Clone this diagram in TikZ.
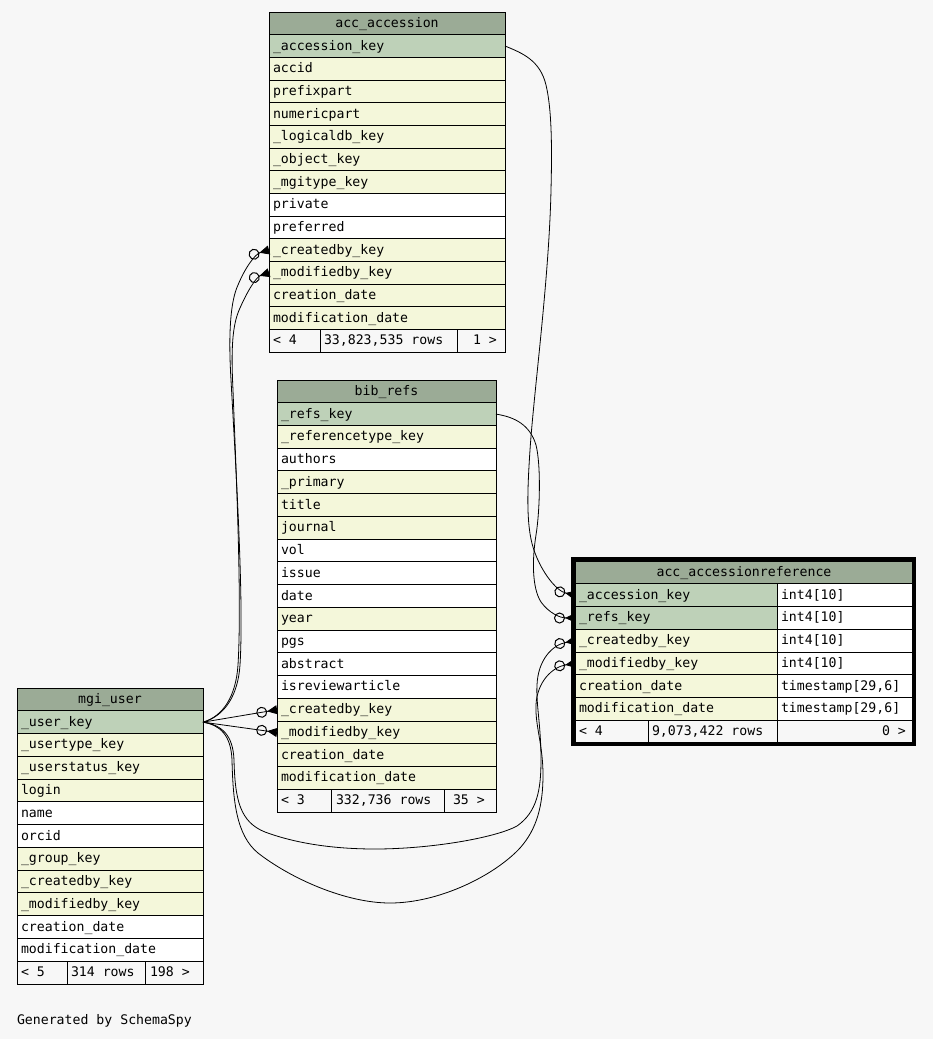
\documentclass[tikz,border=0pt]{standalone}
\usepackage{fontspec}
\usetikzlibrary{arrows.meta}
\newfontfamily\erfont{DejaVu Sans Mono}
\definecolor{bgc}{HTML}{F7F7F7}
\definecolor{hdc}{HTML}{9BAB96}
\definecolor{pkc}{HTML}{BED1B8}
\definecolor{fkc}{HTML}{F4F7DA}
\tikzset{
  erbox/.style={draw=black, line width=1pt, anchor=north west, inner sep=0pt, outer sep=0pt},
  ertext/.style={anchor=base west, inner sep=0pt, outer sep=0pt, font=\erfont\fontsize{13.2}{15}\selectfont},
  erhead/.style={anchor=base, inner sep=0pt, outer sep=0pt, font=\erfont\fontsize{13.2}{15}\selectfont},
  rel/.style={line width=0.8pt, -{Circle[open,length=11pt,width=11pt,line width=1pt]Triangle[reversed,length=10pt,width=9pt]}}
}
\begin{document}
\begin{tikzpicture}[x=1pt,y=-1pt]
\fill[bgc] (0,0) rectangle (933,1039);
\useasboundingbox (0,0) rectangle (933,1039);

% ---------- acc_accession ----------
\node[erbox, fill=hdc, minimum width=236pt, minimum height=22.67pt] (acc0) at (269,12) {};
\node[erhead] (acct0) at ([yshift=-4pt]acc0.center) {acc\_accession};
\foreach \txt/\col [count=\i] in {\_accession\_key/pkc, accid/fkc, prefixpart/fkc, numericpart/fkc, \_logicaldb\_key/fkc, \_object\_key/fkc, \_mgitype\_key/fkc, private/white, preferred/white, \_createdby\_key/fkc, \_modifiedby\_key/fkc, creation\_date/fkc, modification\_date/fkc}{
  \node[erbox, fill=\col, minimum width=236pt, minimum height=22.67pt] (acc\i) at (269,{12+\i*22.67}) {};
  \node[ertext] (acct\i) at ([xshift=4pt,yshift=-4pt]acc\i.west) {\txt};
}
\node[erbox, fill=bgc, minimum width=51pt, minimum height=22.67pt] (accf1) at (269,329.38) {};
\node[erbox, fill=bgc, minimum width=137pt, minimum height=22.67pt] (accf2) at (320,329.38) {};
\node[erbox, fill=bgc, minimum width=48pt, minimum height=22.67pt] (accf3) at (457,329.38) {};
\node[ertext] (accft1) at (273,344.7) {< 4};
\node[ertext] (accft2) at (324,344.7) {33,823,535 rows};
\node[ertext] (accft3) at (473,344.7) {1 >};

% ---------- bib_refs ----------
\node[erbox, fill=hdc, minimum width=219pt, minimum height=22.74pt] (bib0) at (277,380) {};
\node[erhead] (bibt0) at ([yshift=-4pt]bib0.center) {bib\_refs};
\foreach \txt/\col [count=\i] in {\_refs\_key/pkc, \_referencetype\_key/fkc, authors/white, \_primary/fkc, title/fkc, journal/fkc, vol/white, issue/white, date/white, year/fkc, pgs/white, abstract/white, isreviewarticle/white, \_createdby\_key/fkc, \_modifiedby\_key/fkc, creation\_date/fkc, modification\_date/fkc}{
  \node[erbox, fill=\col, minimum width=219pt, minimum height=22.74pt] (bib\i) at (277,{380+\i*22.74}) {};
  \node[ertext] (bibt\i) at ([xshift=4pt,yshift=-4pt]bib\i.west) {\txt};
}
\node[erbox, fill=bgc, minimum width=54pt, minimum height=22.74pt] (bibf1) at (277,789.32) {};
\node[erbox, fill=bgc, minimum width=113pt, minimum height=22.74pt] (bibf2) at (331,789.32) {};
\node[erbox, fill=bgc, minimum width=52pt, minimum height=22.74pt] (bibf3) at (444,789.32) {};
\node[ertext] (bibft1) at (281,804.7) {< 3};
\node[ertext] (bibft2) at (336,804.7) {332,736 rows};
\node[ertext] (bibft3) at (453,804.7) {35 >};

% ---------- mgi_user ----------
\node[erbox, fill=hdc, minimum width=186pt, minimum height=22.77pt] (usr0) at (17,688) {};
\node[erhead] (usrt0) at ([yshift=-4pt]usr0.center) {mgi\_user};
\foreach \txt/\col [count=\i] in {\_user\_key/pkc, \_usertype\_key/fkc, \_userstatus\_key/fkc, login/fkc, name/white, orcid/white, \_group\_key/fkc, \_createdby\_key/fkc, \_modifiedby\_key/fkc, creation\_date/white, modification\_date/white}{
  \node[erbox, fill=\col, minimum width=186pt, minimum height=22.77pt] (usr\i) at (17,{688+\i*22.77}) {};
  \node[ertext] (usrt\i) at ([xshift=4pt,yshift=-4pt]usr\i.west) {\txt};
}
\node[erbox, fill=bgc, minimum width=50pt, minimum height=22.77pt] (usrf1) at (17,961.24) {};
\node[erbox, fill=bgc, minimum width=78pt, minimum height=22.77pt] (usrf2) at (67,961.24) {};
\node[erbox, fill=bgc, minimum width=58pt, minimum height=22.77pt] (usrf3) at (145,961.24) {};
\node[ertext] (usrft1) at (21,976.6) {< 5};
\node[ertext] (usrft2) at (71,976.6) {314 rows};
\node[ertext] (usrft3) at (150,976.6) {198 >};

% ---------- acc_accessionreference ----------
\node[erbox, fill=hdc, minimum width=338pt, minimum height=22.75pt] (ar0) at (575,561) {};
\node[erhead] (art0) at ([yshift=-4pt]ar0.center) {acc\_accessionreference};
\foreach \txt/\col/\typ [count=\i] in {\_accession\_key/pkc/int4[10], \_refs\_key/pkc/int4[10], \_createdby\_key/fkc/int4[10], \_modifiedby\_key/fkc/int4[10], creation\_date/fkc/{timestamp[29,6]}, modification\_date/fkc/{timestamp[29,6]}}{
  \node[erbox, fill=\col, minimum width=202pt, minimum height=22.75pt] (ar\i) at (575,{561+\i*22.75}) {};
  \node[ertext] (art\i) at ([xshift=4pt,yshift=-4pt]ar\i.west) {\txt};
  \node[erbox, fill=white, minimum width=136pt, minimum height=22.75pt] (arty\i) at (777,{561+\i*22.75}) {};
  \node[ertext] (artyt\i) at ([xshift=4pt,yshift=-4pt]arty\i.west) {\typ};
}
\node[erbox, fill=bgc, minimum width=73pt, minimum height=22.75pt] (arf1) at (575,720.25) {};
\node[erbox, fill=bgc, minimum width=129pt, minimum height=22.75pt] (arf2) at (648,720.25) {};
\node[erbox, fill=bgc, minimum width=136pt, minimum height=22.75pt] (arf3) at (777,720.25) {};
\node[ertext] (arft1) at (579,735.6) {< 4};
\node[ertext] (arft2) at (652,735.6) {9,073,422 rows};
\node[ertext] (arft3) at (882,735.6) {0 >};
\draw[line width=3.5pt] (573.2,559.2) rectangle (914,744);

% ---------- footer ----------
\node[ertext] (gen) at (17,1024) {Generated by SchemaSpy};

% ---------- relationships ----------
\draw[rel] (usr1.east) .. controls (225,716) and (238,695) .. (240,665)
  .. controls (244,600) and (236,470) .. (231,380)
  .. controls (228,330) and (231,300) .. (238,285)
  .. controls (245,268) and (255,254) .. (acc10.west);
\draw[rel] (usr1.east) .. controls (224,716) and (236,695) .. (238,665)
  .. controls (242,600) and (236,470) .. (233,390)
  .. controls (231,350) and (232,325) .. (240,308)
  .. controls (247,292) and (256,277) .. (acc11.west);
\draw[rel] (usr1.east) -- (bib14.west);
\draw[rel] (usr1.east) -- (bib15.west);
\draw[rel] (usr1.east) .. controls (222,725) and (233,735) .. (234,760)
  .. controls (235,800) and (240,822) .. (265,832)
  .. controls (300,845) and (340,849) .. (375,849)
  .. controls (430,849) and (495,838) .. (517,826)
  .. controls (537,812) and (541,790) .. (541,760)
  .. controls (541,725) and (536,705) .. (537,685)
  .. controls (538,660) and (552,645) .. (ar3.west);
\draw[rel] (usr1.east) .. controls (220,725) and (231,735) .. (232,760)
  .. controls (233,800) and (236,835) .. (258,853)
  .. controls (290,878) and (345,903) .. (390,903)
  .. controls (440,903) and (495,875) .. (520,848)
  .. controls (537,829) and (543,805) .. (543,775)
  .. controls (543,745) and (535,725) .. (536,705)
  .. controls (537,682) and (552,667) .. (ar4.west);
\draw[rel] (acc1.east) .. controls (522,53) and (540,60) .. (546,85)
  .. controls (552,110) and (552,150) .. (551,190)
  .. controls (549,280) and (534,390) .. (530,450)
  .. controls (527,495) and (526,530) .. (535,553)
  .. controls (542,572) and (556,591) .. (ar1.west);
\draw[rel] (bib1.east) .. controls (515,417) and (530,425) .. (536,445)
  .. controls (541,465) and (540,510) .. (536,535)
  .. controls (532,560) and (532,588) .. (541,602)
  .. controls (549,613) and (560,618) .. (ar2.west);
\end{tikzpicture}
\end{document}
